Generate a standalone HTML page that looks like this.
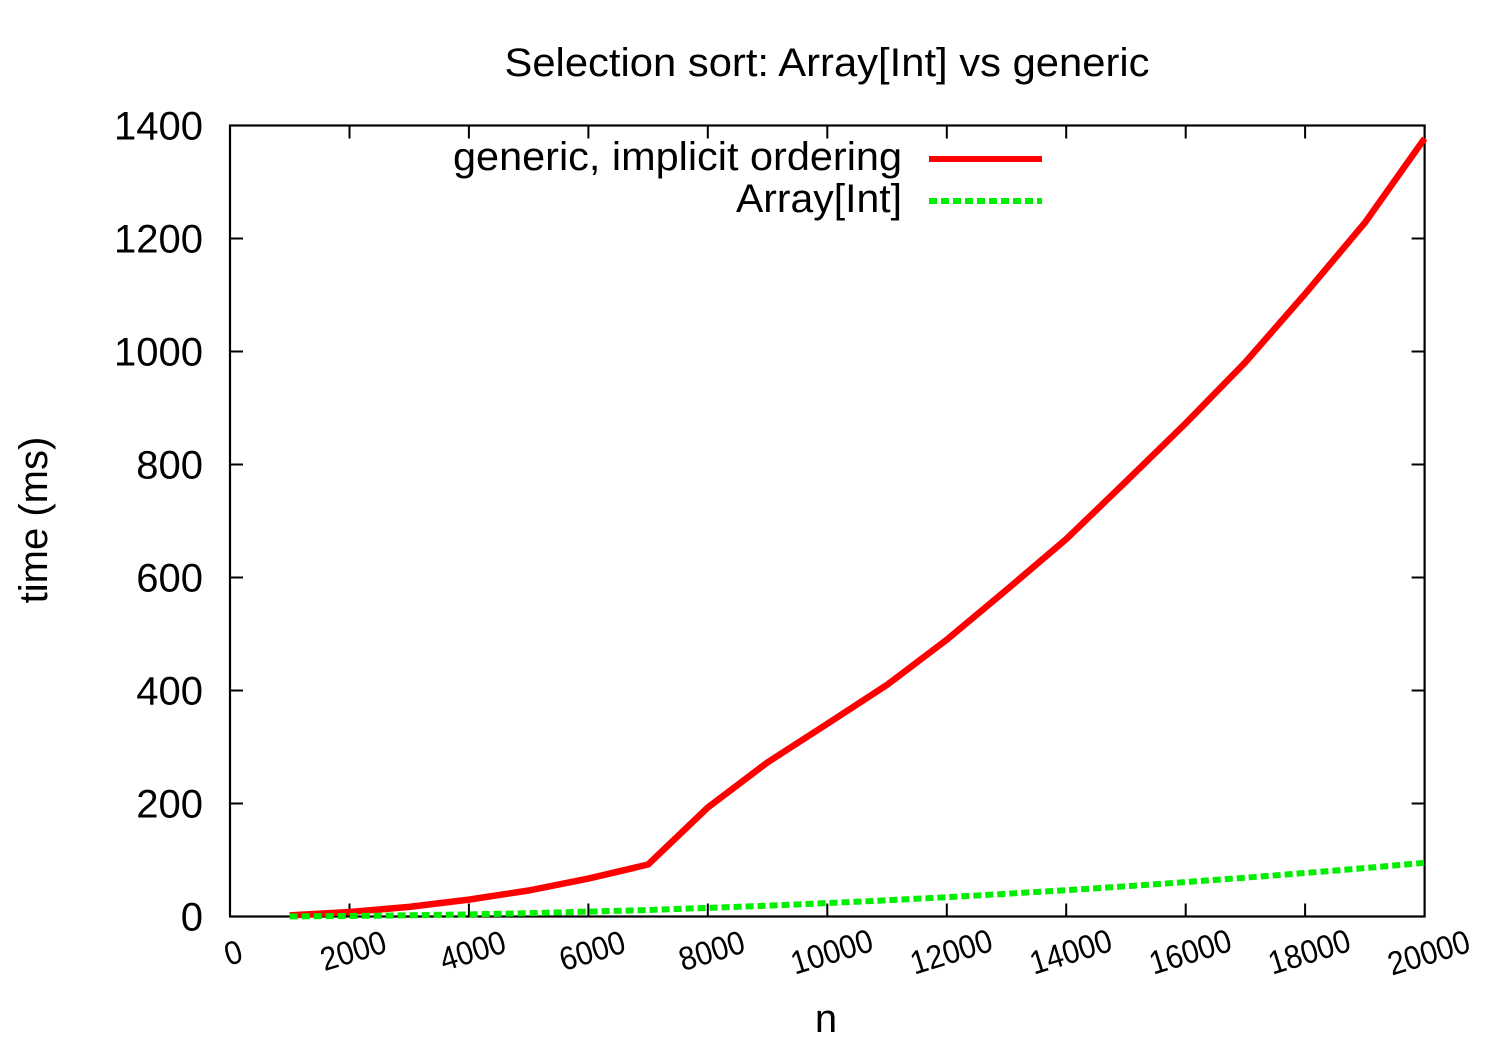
<!DOCTYPE html>
<html>
<head>
<meta charset="utf-8">
<style>
  html,body{margin:0;padding:0;background:#fff;}
  svg{display:block;}
  text{font-family:"Liberation Sans",Arial,sans-serif;fill:#000;}
</style>
</head>
<body>
<svg width="1500" height="1050" viewBox="0 0 1500 1050" xmlns="http://www.w3.org/2000/svg">
  <rect x="0" y="0" width="1500" height="1050" fill="#fff"/>

  <!-- Title -->
  <text x="827" y="76" font-size="40" text-anchor="middle" textLength="645" lengthAdjust="spacingAndGlyphs">Selection sort: Array[Int] vs generic</text>

  <!-- Y tick labels -->
  <g font-size="40" text-anchor="end">
    <text x="203" y="930.5">0</text>
    <text x="203" y="817.5">200</text>
    <text x="203" y="704.5">400</text>
    <text x="203" y="591.5">600</text>
    <text x="203" y="478.5">800</text>
    <text x="203" y="365.5">1000</text>
    <text x="203" y="252.5">1200</text>
    <text x="203" y="139.5">1400</text>
  </g>

  <!-- X tick labels (rotated) -->
  <g font-size="33" text-anchor="middle">
    <text transform="translate(233,952) rotate(-17)" y="12" textLength="17" lengthAdjust="spacingAndGlyphs">0</text>
    <text transform="translate(353,950) rotate(-17)" y="12" textLength="67" lengthAdjust="spacingAndGlyphs">2000</text>
    <text transform="translate(472.5,950) rotate(-17)" y="12" textLength="67" lengthAdjust="spacingAndGlyphs">4000</text>
    <text transform="translate(592,950) rotate(-17)" y="12" textLength="67" lengthAdjust="spacingAndGlyphs">6000</text>
    <text transform="translate(711.5,950) rotate(-17)" y="12" textLength="67" lengthAdjust="spacingAndGlyphs">8000</text>
    <text transform="translate(831.5,951) rotate(-17)" y="12" textLength="84" lengthAdjust="spacingAndGlyphs">10000</text>
    <text transform="translate(951,951) rotate(-17)" y="12" textLength="84" lengthAdjust="spacingAndGlyphs">12000</text>
    <text transform="translate(1070.5,951) rotate(-17)" y="12" textLength="84" lengthAdjust="spacingAndGlyphs">14000</text>
    <text transform="translate(1190,951) rotate(-17)" y="12" textLength="84" lengthAdjust="spacingAndGlyphs">16000</text>
    <text transform="translate(1309,951) rotate(-17)" y="12" textLength="84" lengthAdjust="spacingAndGlyphs">18000</text>
    <text transform="translate(1428.5,952) rotate(-17)" y="12" textLength="84" lengthAdjust="spacingAndGlyphs">20000</text>
  </g>

  <!-- Axis labels -->
  <text x="826" y="1032" font-size="40" text-anchor="middle">n</text>
  <text transform="translate(47,520) rotate(-90)" font-size="40" text-anchor="middle">time (ms)</text>

  <!-- Ticks -->
  <g stroke="#000" stroke-width="2">
    <path d="M230 803.5h13M230 690.5h13M230 577.5h13M230 464.5h13M230 351.5h13M230 238.5h13"/>
    <path d="M1424.6 803.5h-13M1424.6 690.5h-13M1424.6 577.5h-13M1424.6 464.5h-13M1424.6 351.5h-13M1424.6 238.5h-13"/>
    <path d="M349.5 916.5v-13M468.9 916.5v-13M588.4 916.5v-13M707.8 916.5v-13M827.3 916.5v-13M946.8 916.5v-13M1066.2 916.5v-13M1185.7 916.5v-13M1305.1 916.5v-13"/>
    <path d="M349.5 125.5v13M468.9 125.5v13M588.4 125.5v13M707.8 125.5v13M827.3 125.5v13M946.8 125.5v13M1066.2 125.5v13M1185.7 125.5v13M1305.1 125.5v13"/>
  </g>

  <!-- Frame -->
  <rect x="230" y="125.5" width="1194.6" height="791" fill="none" stroke="#000" stroke-width="2.2"/>

  <!-- Legend -->
  <text x="902" y="170" font-size="40" text-anchor="end" textLength="449" lengthAdjust="spacingAndGlyphs">generic, implicit ordering</text>
  <text x="902" y="212" font-size="40" text-anchor="end" textLength="166" lengthAdjust="spacingAndGlyphs">Array[Int]</text>
  <line x1="929" y1="159" x2="1042" y2="159" stroke="#ff0000" stroke-width="6"/>
  <line x1="929" y1="201" x2="1042" y2="201" stroke="#00ee00" stroke-width="6" stroke-dasharray="8,4"/>

  <!-- Red series: generic -->
  <polyline fill="none" stroke="#ff0000" stroke-width="6.5" stroke-linejoin="round"
    points="289.7,915.4 349.5,912.0 409.2,906.9 468.9,899.6 528.7,890.5 588.4,878.6 648.1,864.5 707.8,807.5 767.6,762.3 827.3,723.8 887.0,684.9 946.8,639.7 1006.5,589.9 1066.2,539.1 1126.0,481.5 1185.7,423.3 1245.4,362.2 1305.1,293.9 1364.9,222.7 1424.6,138.5"/>

  <!-- Green series: Array[Int] -->
  <polyline fill="none" stroke="#00ee00" stroke-width="6" stroke-dasharray="8,4"
    points="289.7,916.4 349.5,916.0 409.2,915.3 468.9,914.4 528.7,913.2 588.4,911.6 648.1,910.0 707.8,907.9 767.6,905.7 827.3,903.1 887.0,900.3 946.8,897.2 1006.5,893.8 1066.2,890.2 1126.0,886.3 1185.7,882.1 1245.4,877.7 1305.1,873.0 1364.9,868.1 1424.6,862.8"/>
</svg>
</body>
</html>
